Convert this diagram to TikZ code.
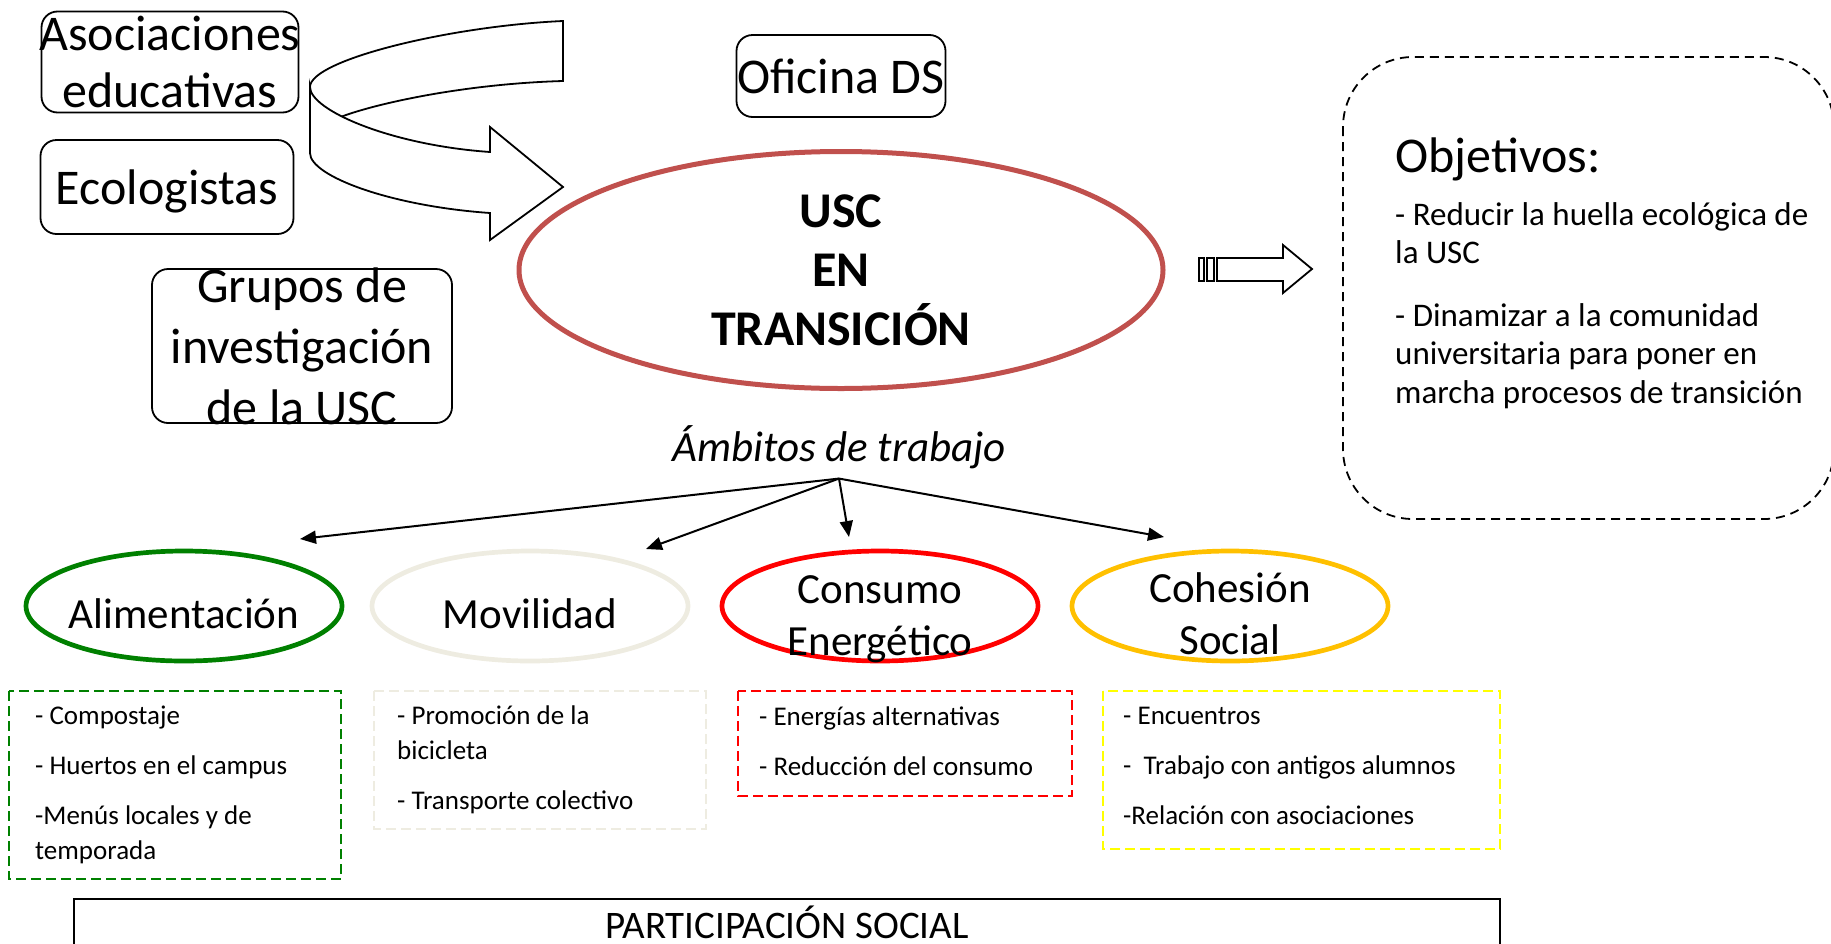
\documentclass[tikz,border=0pt]{standalone}
\usepackage{fontspec}
\setmainfont{Carlito}
\usetikzlibrary{shapes.geometric}
\usetikzlibrary{arrows.meta}
\definecolor{uscred}{HTML}{C0504D}
\definecolor{alimgreen}{HTML}{008000}
\definecolor{movgray}{HTML}{EEECE1}
\definecolor{cohgold}{HTML}{FFC000}
\definecolor{cohyellow}{HTML}{FFFF00}
\tikzset{>={Triangle[length=16pt,width=13pt]}}
\tikzset{
	% rounded boxes of the actors
	actor/.style={draw=black,line width=1.8pt,rounded corners=16pt,inner sep=0pt},
	bigfont/.style={font=\fontsize{50}{57}\selectfont,align=center},
	% ellipses of the work areas
	amb/.style={ellipse,line width=4.7pt,minimum width=316pt,minimum height=110pt,inner sep=0pt},
	ambfont/.style={font=\fontsize{43}{52}\selectfont,align=center},
	% dashed lists under the ellipses (text placed at the baseline of its last line)
	dbox/.style={line width=1.6pt,dash pattern=on 10pt off 5pt},
	itemfont/.style={font=\fontsize{27}{35}\selectfont,align=left,anchor=base west,inner sep=0pt},
	% white outlined arrows
	bigarrow/.style={draw=black,fill=white,line width=1.8pt},
}

\begin{document}
\begin{tikzpicture}[x=1pt,y=-1pt]
\useasboundingbox (0,0) rectangle (1831,943);
\clip (0,0) rectangle (1831,943);
% curved arrow: back band first, then the front band with its head
\draw[bigarrow] (563,21) .. controls (450,26) and (310,60) .. (310,87) -- (310,130) -- (338,130)
	-- (338,118) .. controls (370,105) and (460,84) .. (563,81) -- cycle;
\draw[bigarrow] (310,87) .. controls (310,110) and (390,145) .. (490,152) -- (490,127) -- (563,187)
	-- (490,240) -- (490,213) .. controls (390,206) and (310,176) .. (310,153) -- cycle;
% the actors
\node[actor,minimum width=257pt,minimum height=101pt,
	label={[bigfont]center:Asociaciones\\educativas}] (asoc) at (170,62) {};
\node[actor,minimum width=253pt,minimum height=94pt,
	label={[bigfont,yshift=-4pt]center:Ecologistas}] (ecol) at (167,187) {};
\node[actor,minimum width=300pt,minimum height=154pt,
	label={[bigfont,font=\fontsize{50}{61}\selectfont]center:Grupos de\\investigación\\de la USC}] (grupos) at (302,346) {};
\node[actor,minimum width=209pt,minimum height=82pt,
	label={[bigfont]center:Oficina DS}] (oficina) at (841,76) {};
% the project
\node[ellipse,draw=uscred,line width=5pt,minimum width=644pt,minimum height=237pt,inner sep=0pt,
	label={[font=\fontsize{50}{59}\selectfont\bfseries,align=center]center:USC\\EN\\TRANSICIÓN}] (usc) at (841,270) {};
% striped arrow towards the goals
\draw[line width=1.6pt] (1199,258) rectangle (1204,281) (1207,258) rectangle (1214,281);
\draw[bigarrow] (1217,258) -- (1283,258) -- (1283,245) -- (1312,269) -- (1283,293) -- (1283,281)
	-- (1217,281) -- cycle;
% goals
\draw[line width=1.8pt,dash pattern=on 9pt off 6pt,rounded corners=70pt] (1343,57) rectangle (1834,519);
\node[font=\fontsize{50}{60}\selectfont,anchor=base west,inner sep=0pt] (obj) at (1395,172) {Objetivos:};
\node[font=\fontsize{33}{38.5}\selectfont,align=left,anchor=base west,inner sep=0pt] (objlist) at (1395,403)
	{- Reducir la huella ecológica de\\la USC\\[24pt]- Dinamizar a la comunidad\\universitaria para poner en\\marcha procesos de transición};
% work areas
\node[font=\fontsize{43}{50}\selectfont\itshape,anchor=base,inner sep=10pt] (ambitos) at (839,461) {Ámbitos de trabajo};
\node[amb,draw=alimgreen,label={[ambfont,yshift=-8pt]center:Alimentación}] (alim) at (184,606) {};
\node[amb,draw=movgray,label={[ambfont,yshift=-8pt]center:Movilidad}] (movil) at (530,606) {};
\node[amb,draw=red,label={[ambfont,yshift=-13pt]center:Consumo\\Energético}] (consumo) at (880,606) {};
\node[amb,draw=cohgold,label={[ambfont,yshift=-8pt]center:Cohesión\\Social}] (cohesion) at (1230,606) {};
\coordinate (pAlim) at (300,539);
\coordinate (pMovil) at (646,549);
\coordinate (pConsumo) at (849,537);
\coordinate (pCohesion) at (1164,537);
\foreach \p in {pAlim,pMovil,pConsumo,pCohesion}
	\draw[->,line width=2pt] (ambitos.south) -- (\p);
% lists of actions
\draw[dbox,draw=alimgreen] (9,691) rectangle (341,879);
\node[itemfont] (alimlist) at (35,859) {- Compostaje\\[15pt]- Huertos en el campus\\[15pt]-Menús locales y de\\temporada};
\draw[dbox,draw=movgray] (374,691) rectangle (706,829);
\node[itemfont] (movillist) at (397,809) {- Promoción de la\\bicicleta\\[15pt]- Transporte colectivo};
\draw[dbox,draw=red] (738,691) rectangle (1072,796);
\node[itemfont] (consumolist) at (759,775) {- Energías alternativas\\[15pt]- Reducción del consumo};
\draw[dbox,draw=cohyellow] (1103,691) rectangle (1500,849);
\node[itemfont] (cohesionlist) at (1123,824) {- Encuentros\\[15pt]-\ \ Trabajo con antigos alumnos\\[15pt]-Relación con asociaciones};
% participation
\draw[line width=2pt] (74,899) rectangle (1500,990);
\node[font=\fontsize{39}{45}\selectfont,anchor=base] (partic) at (787,938) {PARTICIPACIÓN SOCIAL};
\end{tikzpicture}
\end{document}
